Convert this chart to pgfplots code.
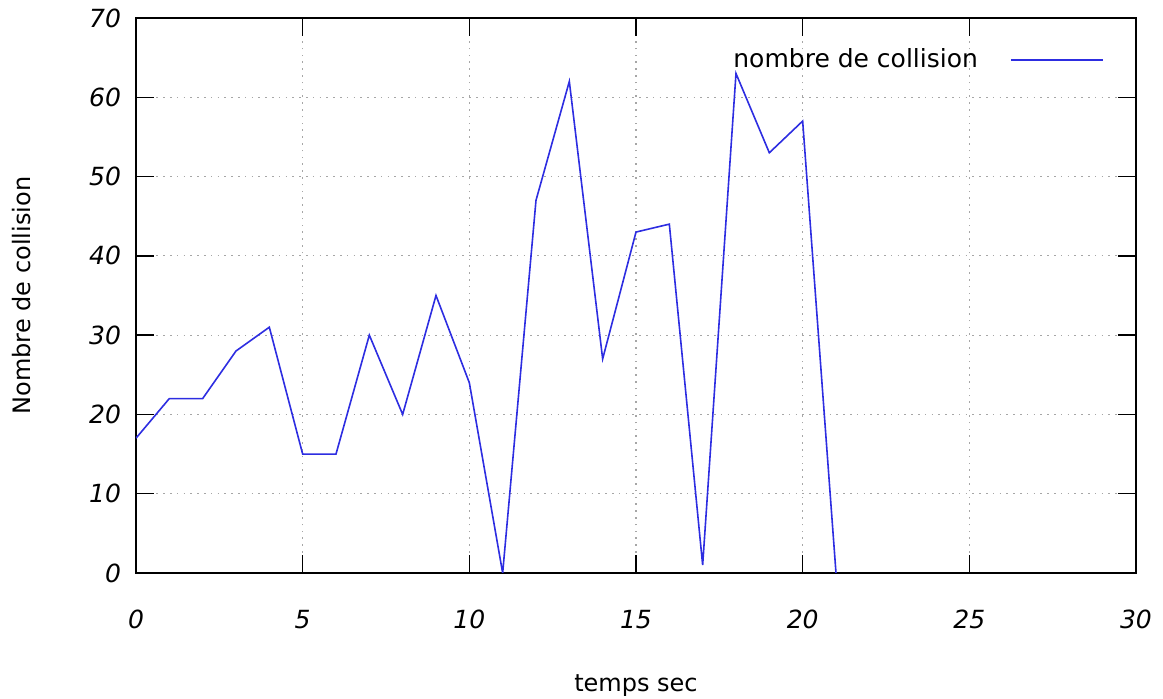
\documentclass[border=0pt]{standalone}
\usepackage{fontspec}
\setmainfont{DejaVu Sans}
\usepackage{pgfplots}
\pgfplotsset{compat=1.18}

\pgfplotstableread{
t  n
0  17
1  22
2  22
3  28
4  31
5  15
6  15
7  30
8  20
9  35
10 24
11 0
12 47
13 62
14 27
15 43
16 44
17 1
18 63
19 53
20 57
21 0
}\collisions

\begin{document}
\begin{tikzpicture}
% page frame: 1px of the reference = 0.5pt
\useasboundingbox (-68pt,-63pt) rectangle (513.5pt,286.5pt);
\begin{axis}[at={(0,0)},anchor=south west,
  scale only axis,width=500pt,height=277.5pt,
  xmin=0,xmax=30,ymin=0,ymax=70,
  xtick={0,5,...,30},ytick={0,10,...,70},
  tick align=inside,major tick length=9pt,
  tick style={black,line width=0.7pt},
  axis line style={black,line width=0.8pt},
  grid=major,
  major grid style={gray!70,line width=0.6pt,dash pattern=on 0.8pt off 2.6pt},
  /pgf/number format/assume math mode=true,
  ticklabel style={font=\fontsize{12.5}{14}\selectfont\itshape},
  xticklabel style={yshift=-15pt},
  yticklabel style={xshift=-4pt},
  xlabel={temps sec},ylabel={Nombre de collision},
  label style={font=\fontsize{12}{14}\selectfont},
  xlabel style={at={([yshift=-56.5pt]rel axis cs:0.5,0)},anchor=center},
  ylabel style={at={([xshift=-57pt]rel axis cs:0,0.5)},anchor=center},
  legend plot pos=right,
  legend image code/.code={\draw[#1] (0pt,0pt) -- (46pt,0pt);},
  legend style={draw=none,fill=none,at={(rel axis cs:1,1)},anchor=east,
    xshift=-13pt,yshift=-21pt,font=\fontsize{12.5}{14}\selectfont,
    /tikz/every odd column/.append style={column sep=14pt}},
]
\addplot[color={rgb,255:red,45;green,45;blue,225},line width=0.8pt] table[x=t,y=n] {\collisions};
\addlegendentry{nombre de collision}
\end{axis}
\end{tikzpicture}
\end{document}
